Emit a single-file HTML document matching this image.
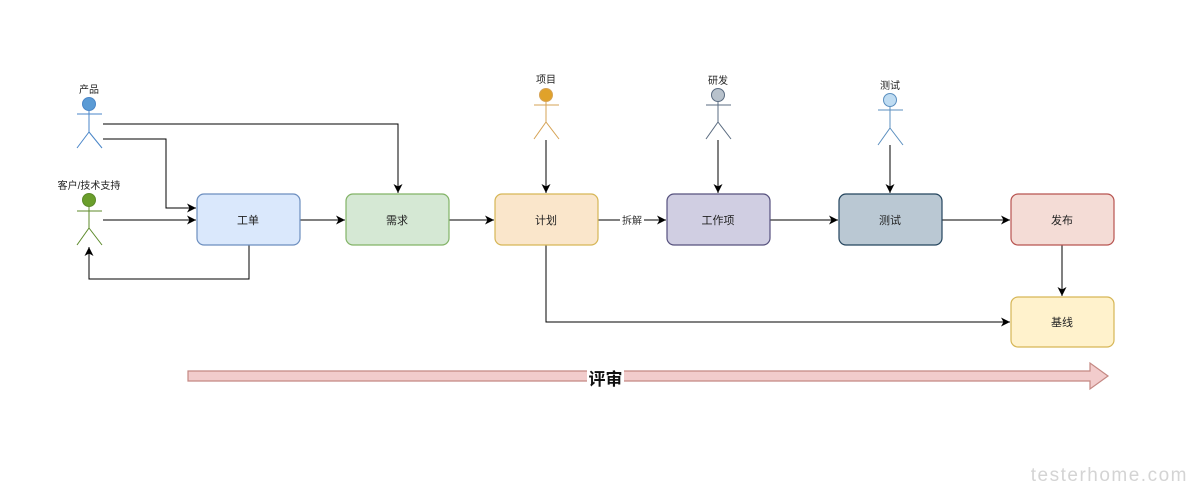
<!DOCTYPE html>
<html><head><meta charset="utf-8"><style>
html,body{margin:0;padding:0;background:#fff;}
svg{display:block;}
text{font-family:"Liberation Sans","Noto Sans CJK SC",sans-serif;}
</style></head><body>
<svg width="1191" height="501" viewBox="0 0 1191 501" xmlns="http://www.w3.org/2000/svg">
<defs>
<marker id="a" markerWidth="10" markerHeight="10" refX="9" refY="5" orient="auto" markerUnits="userSpaceOnUse">
<path d="M0,0.5 L9,5 L0,9.5 L2.5,5 Z" fill="#000"/></marker>
</defs>
<rect width="1191" height="501" fill="#fff"/>
<g fill="none" stroke="#000" stroke-width="1">
<path d="M103,124 H398 V193" marker-end="url(#a)"/>
<path d="M103,139 H166 V208 H196" marker-end="url(#a)"/>
<path d="M103,220 H196" marker-end="url(#a)"/>
<path d="M249,245 V279 H89 V247" marker-end="url(#a)"/>
<path d="M300,220 H345" marker-end="url(#a)"/>
<path d="M449,220 H494" marker-end="url(#a)"/>
<path d="M598,220 H666" marker-end="url(#a)"/>
<path d="M770,220 H838" marker-end="url(#a)"/>
<path d="M942,220 H1010" marker-end="url(#a)"/>
<path d="M1062,245 V296" marker-end="url(#a)"/>
<path d="M546,245 V322 H1010" marker-end="url(#a)"/>
<path d="M546,140 V193" marker-end="url(#a)"/>
<path d="M718,140 V193" marker-end="url(#a)"/>
<path d="M890,145 V193" marker-end="url(#a)"/>
</g>
<rect x="620" y="213" width="24" height="14" fill="#fff"/>
<text x="632" y="224" font-size="10" text-anchor="middle" fill="#333">拆解</text>
<g stroke-width="1.2">
<rect x="197" y="194" width="103" height="51" rx="7" fill="#dae8fc" stroke="#6c8ebf"/>
<rect x="346" y="194" width="103" height="51" rx="7" fill="#d5e8d4" stroke="#82b366"/>
<rect x="495" y="194" width="103" height="51" rx="7" fill="#fae6cb" stroke="#d6b656" />
<rect x="667" y="194" width="103" height="51" rx="7" fill="#d0cee2" stroke="#56517e"/>
<rect x="839" y="194" width="103" height="51" rx="7" fill="#bac8d3" stroke="#23445d"/>
<rect x="1011" y="194" width="103" height="51" rx="7" fill="#f4dcd6" stroke="#b85450"/>
<rect x="1011" y="297" width="103" height="50" rx="7" fill="#fff2cc" stroke="#d6b656"/>
</g>
<g font-size="11" text-anchor="middle" fill="#222">
<text x="248" y="224">工单</text>
<text x="397" y="224">需求</text>
<text x="546" y="224">计划</text>
<text x="718" y="224">工作项</text>
<text x="890" y="224">测试</text>
<text x="1062" y="224">发布</text>
<text x="1062" y="326">基线</text>
<text x="89" y="93" font-size="10">产品</text>
<text x="89" y="189" font-size="10">客户/技术支持</text>
<text x="546" y="83" font-size="10">项目</text>
<text x="718" y="84" font-size="10">研发</text>
<text x="890" y="89" font-size="10">测试</text>
</g>
<g fill="none" stroke-width="1">
<g stroke="#4a86c8"><circle cx="89" cy="104" r="6.5" fill="#5b9bd5"/><path d="M89,111 V132 M77,114 H102 M89,132 L77,148 M89,132 L102,148"/></g>
<g stroke="#5c8a2a"><circle cx="89" cy="200" r="6.5" fill="#6a9e2b"/><path d="M89,207 V228 M77,211 H102 M89,228 L77,245 M89,228 L102,245"/></g>
<g stroke="#d6a355"><circle cx="546" cy="95" r="6.5" fill="#e0a22a"/><path d="M546,102 V122 M534,105 H559 M546,122 L534,139 M546,122 L559,139"/></g>
<g stroke="#5a6b80"><circle cx="718" cy="95" r="6.5" fill="#b8c2cc"/><path d="M718,102 V122 M706,105 H731 M718,122 L706,139 M718,122 L731,139"/></g>
<g stroke="#5b8fbf"><circle cx="890" cy="100" r="6.5" fill="#bfdcf2"/><path d="M890,107 V128 M878,110 H903 M890,128 L878,145 M890,128 L903,145"/></g>
</g>
<path d="M188,371 H1090 V363 L1108,376 L1090,389 V381 H188 Z" fill="#f2cccc" stroke="#c48883" stroke-width="1.2"/>
<rect x="587" y="368" width="37" height="20" fill="#fff"/>
<text x="605.5" y="385" font-size="17" font-weight="bold" text-anchor="middle" fill="#111">评审</text>
<text x="1188" y="481" font-size="19" text-anchor="end" fill="#d4d4d4" letter-spacing="1.5">testerhome.com</text>
</svg>
</body></html>
